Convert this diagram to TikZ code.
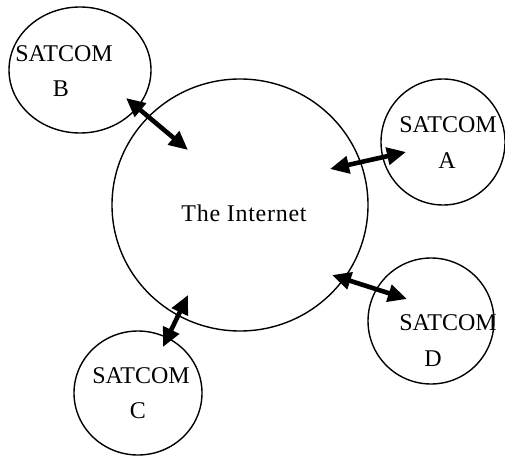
\documentclass[tikz,border=0pt]{standalone}
\usepackage{fontspec}
\setmainfont{Liberation Serif}
\newfontfamily\spacedfont[LetterSpace=3]{Liberation Serif}
\usetikzlibrary{arrows.meta,shapes.geometric}
\begin{document}
\begin{tikzpicture}[x=1pt,y=-1pt,
  ring/.style={draw,ellipse,line width=1.4pt,inner sep=0pt},
  lbl/.style={anchor=base,inner sep=0pt,font=\fontsize{24}{28}\selectfont},
  link/.style={line width=4.6pt,{Triangle[length=19pt,width=17pt]}-{Triangle[length=19pt,width=17pt]}}]
\useasboundingbox (0,0) rectangle (505,457);
% circles
\node[ring,minimum width=256pt,minimum height=252pt] (net) at (240,205) {};
\node[ring,minimum width=142pt,minimum height=126pt] (satB) at (80,70) {};
\node[ring,minimum width=124pt,minimum height=126pt] (satA) at (443,142) {};
\node[ring,minimum width=126pt,minimum height=126pt] (satD) at (431,321) {};
\node[ring,minimum width=128pt,minimum height=124pt] (satC) at (138,393) {};
% labels
\node[lbl,font=\fontsize{24}{28}\spacedfont] (tnet) at (244,221) {The Internet};
\node[lbl] (tB1) at (64,62) {SATCOM};
\node[lbl] (tB2) at (61,97) {B};
\node[lbl] (tA1) at (448,132) {SATCOM};
\node[lbl] (tA2) at (447,168) {A};
\node[lbl] (tD1) at (448,330) {SATCOM};
\node[lbl] (tD2) at (433,366) {D};
\node[lbl] (tC1) at (141,383) {SATCOM};
\node[lbl] (tC2) at (138,418) {C};
% arrow ends
\coordinate (b1) at (126,98);  \coordinate (b2) at (188,150);
\coordinate (a1) at (330,169); \coordinate (a2) at (406,152);
\coordinate (d1) at (332,275); \coordinate (d2) at (407,299);
\coordinate (c1) at (188,295); \coordinate (c2) at (163,347);
\draw[link] (b1) -- (b2);
\draw[link] (a1) -- (a2);
\draw[link] (d1) -- (d2);
\draw[link] (c1) -- (c2);
\end{tikzpicture}
\end{document}
